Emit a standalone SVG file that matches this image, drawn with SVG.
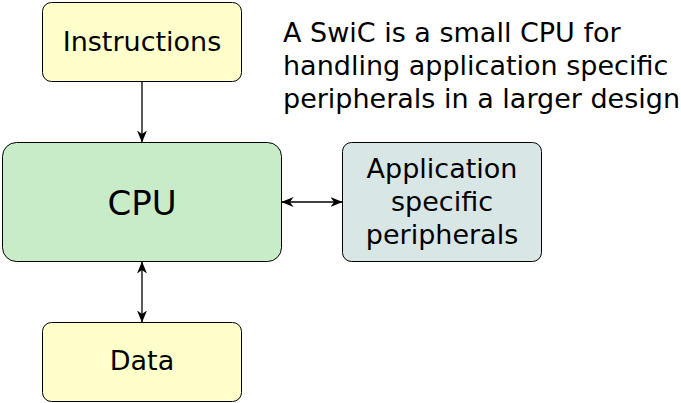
<svg xmlns="http://www.w3.org/2000/svg" width="681" height="403" viewBox="0 0 681 403">
<defs>
<style>
.box{stroke:#000;stroke-width:1}
.y{fill:#ffffcc}
.g{fill:#c8ecc8}
.b{fill:#d8e6e6}
text{font-family:"DejaVu Sans",sans-serif;fill:#000;text-anchor:middle}
.t{font-size:27px}
.n{font-size:27px;text-anchor:start}
.c{stroke:#000;stroke-width:1.3;fill:none}
</style>
<marker id="ah" viewBox="0 0 12 10" refX="11.5" refY="5" markerWidth="12" markerHeight="10" markerUnits="userSpaceOnUse" orient="auto-start-reverse">
<path d="M0,0 L12,5 L0,10 L3.5,5 z" fill="#000"/>
</marker>
</defs>
<rect width="681" height="403" fill="#fff"/>
<g id="connectors">
<line class="c" x1="142" y1="82" x2="142" y2="142" marker-end="url(#ah)"/>
<line class="c" x1="282" y1="202" x2="342" y2="202" marker-start="url(#ah)" marker-end="url(#ah)"/>
<line class="c" x1="142" y1="262" x2="142" y2="322" marker-start="url(#ah)" marker-end="url(#ah)"/>
</g>
<g id="instructions">
<rect class="box y" x="42.5" y="2.5" width="199" height="79" rx="9"/>
<text class="t" x="142" y="51">Instructions</text>
</g>
<g id="cpu">
<rect class="box g" x="2.5" y="142.5" width="279" height="119" rx="14"/>
<text x="142" y="215" style="font-size:34px">CPU</text>
</g>
<g id="peripherals">
<rect class="box b" x="342.5" y="142.5" width="199" height="119" rx="9"/>
<text class="t" x="442" y="178">Application</text>
<text class="t" x="442" y="211">specific</text>
<text class="t" x="442" y="244">peripherals</text>
</g>
<g id="data">
<rect class="box y" x="42.5" y="322.5" width="199" height="79" rx="9"/>
<text class="t" x="142" y="370">Data</text>
</g>
<g id="note">
<text class="n" x="283" y="42">A SwiC is a small CPU for</text>
<text class="n" x="283" y="75">handling application specific</text>
<text class="n" x="283" y="108">peripherals in a larger design</text>
</g>
</svg>
